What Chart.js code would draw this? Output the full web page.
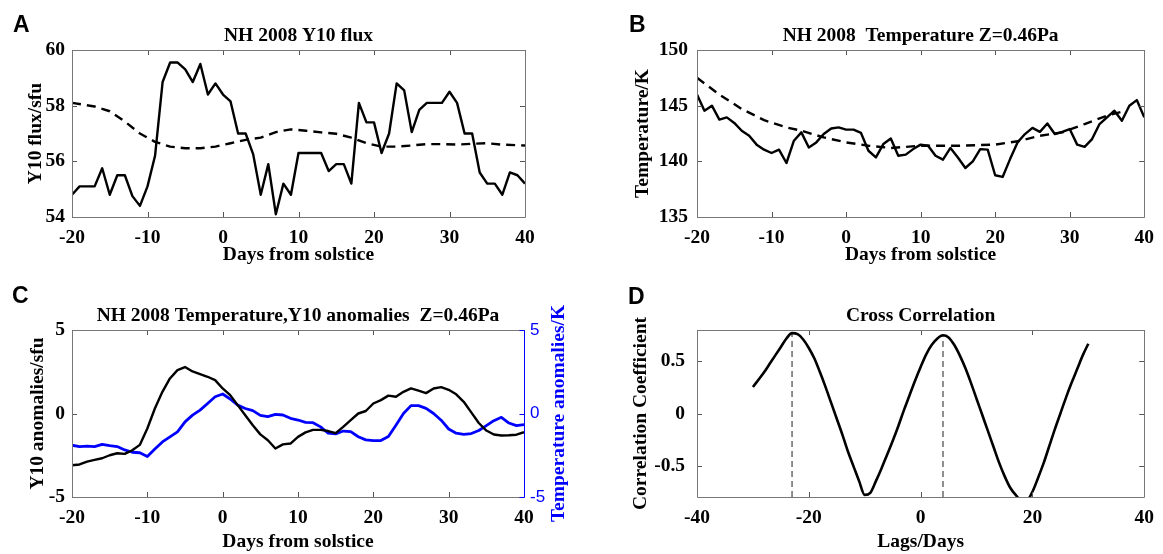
<!DOCTYPE html>
<html>
<head>
<meta charset="utf-8">
<script src="https://cdn.jsdelivr.net/npm/chart.js@4.4.1/dist/chart.umd.min.js"></script>
<style>
  html, body { margin: 0; padding: 0; background: #fff; }
  #wrap { position: relative; width: 1163px; height: 554px; overflow: hidden; }
  .panel { position: absolute; }
</style>
</head>
<body>
<div id="wrap">
  <canvas id="chartA" class="panel" width="575" height="275" style="left:0;top:0"></canvas>
  <canvas id="chartB" class="panel" width="573" height="275" style="left:590px;top:0"></canvas>
  <canvas id="chartC" class="panel" width="590" height="279" style="left:0;top:275px"></canvas>
  <canvas id="chartD" class="panel" width="573" height="279" style="left:590px;top:275px"></canvas>
</div>
<script>
//..days from solstice, shared by panels A-C
const days = [-20, -19, -18, -17, -16, -15, -14, -13, -12, -11, -10, -9, -8, -7, -6, -5, -4, -3, -2, -1,
    0, 1, 2, 3, 4, 5, 6, 7, 8, 9, 10, 11, 12, 13, 14, 15, 16, 17, 18, 19,
    20, 21, 22, 23, 24, 25, 26, 27, 28, 29, 30, 31, 32, 33, 34, 35, 36, 37, 38, 39, 40];

//..panel A: Y10 flux and its smooth background
const y10Flux = [54.8, 55.1, 55.1, 55.1, 55.75, 54.8, 55.5, 55.5, 54.75, 54.4, 55.1, 56.2, 58.85, 59.55, 59.55, 59.3, 58.85, 59.5, 58.4, 58.8,
    58.4, 58.15, 57.0, 57.0, 56.25, 54.8, 55.9, 54.1, 55.2, 54.8, 56.3, 56.3, 56.3, 56.3, 55.65, 55.9, 55.9, 55.2, 58.1, 57.4,
    57.4, 56.3, 57.0, 58.8, 58.55, 57.05, 57.85, 58.1, 58.1, 58.1, 58.5, 58.1, 57.0, 57.0, 55.6, 55.2, 55.2, 54.8, 55.6, 55.5, 55.2];
const y10MeanDays = [-20, -17, -15, -13, -11, -9, -7, -5, -3, -1, 1, 3, 5, 7, 9, 11, 13, 15, 17, 19, 21, 23, 25, 27, 29, 31, 33, 35, 37, 40];
const y10Mean = [58.1, 57.97, 57.8, 57.43, 57.0, 56.7, 56.53, 56.47, 56.47, 56.53, 56.65, 56.77, 56.85, 57.05, 57.15, 57.1, 57.04, 56.99, 56.85, 56.65,
    56.53, 56.53, 56.57, 56.62, 56.62, 56.6, 56.63, 56.65, 56.6, 56.57];

//..panel B: temperature at Z=0.46Pa and its smooth background
const temperature = [146.0, 144.55, 145.0, 143.75, 143.95, 143.45, 142.75, 142.3, 141.5, 141.05, 140.75, 141.05, 139.85, 141.85, 142.6, 141.25, 141.7, 142.45, 142.95, 143.05,
    142.85, 142.85, 142.55, 140.95, 140.35, 141.55, 142.05, 140.5, 140.6, 141.1, 141.5, 141.4, 140.5, 140.15, 141.2, 140.35, 139.4, 140.0, 141.1, 141.05,
    138.75, 138.6, 140.2, 141.7, 142.45, 143.0, 142.65, 143.4, 142.45, 142.65, 142.9, 141.5, 141.3, 142.0, 143.35, 143.95, 144.55, 143.65, 145.0, 145.5, 143.95];
const tempMeanDays = [-20, -17, -14, -11, -8, -6, -3, 0, 3, 6, 10, 15, 20, 23, 26, 29, 32, 35, 37];
const tempMean = [147.5, 146.0, 144.7, 143.7, 143.05, 142.75, 142.15, 141.7, 141.4, 141.2, 141.4, 141.4, 141.5, 141.8, 142.3, 142.6, 143.35, 144.1, 144.45];

//..panel C: anomalies
const y10Anom = [-3.1, -3.05, -2.88, -2.78, -2.68, -2.5, -2.38, -2.42, -2.2, -1.88, -0.9, 0.3, 1.3, 2.1, 2.6, 2.78, 2.52, 2.36, 2.2, 2.0,
    1.5, 1.1, 0.5, -0.1, -0.7, -1.25, -1.6, -2.1, -1.85, -1.8, -1.4, -1.13, -0.98, -0.98, -1.05, -1.18, -0.8, -0.4, 0.0, 0.15,
    0.6, 0.8, 1.07, 1.0, 1.3, 1.5, 1.37, 1.22, 1.5, 1.58, 1.42, 1.15, 0.7, 0.07, -0.57, -1.02, -1.26, -1.32, -1.3, -1.27, -1.12];
const tempAnom = [-1.9, -1.98, -1.95, -1.98, -1.85, -1.93, -1.98, -2.18, -2.32, -2.35, -2.58, -2.13, -1.7, -1.4, -1.1, -0.5, -0.1, 0.2, 0.6, 1.0,
    1.17, 0.87, 0.5, 0.3, 0.17, -0.11, -0.19, -0.05, -0.09, -0.29, -0.39, -0.53, -0.55, -0.8, -1.18, -1.22, -1.05, -1.09, -1.39, -1.58,
    -1.62, -1.62, -1.38, -0.7, 0.0, 0.47, 0.47, 0.31, 0.0, -0.4, -0.93, -1.18, -1.25, -1.2, -1.02, -0.73, -0.43, -0.23, -0.57, -0.73, -0.67];

//..panel D: cross correlation vs lag
const lags = [-30, -29, -28, -27, -26, -25, -24, -23, -22, -21, -20, -19, -18, -17, -16, -15, -14, -13, -12, -11,
    -10, -9, -8, -7, -6, -5, -4, -3, -2, -1, 0, 1, 2, 3, 4, 5, 6, 7, 8, 9,
    10, 11, 12, 13, 14, 15, 16, 17, 18, 19, 20, 21, 22, 23, 24, 25, 26, 27, 28, 29, 30];
const crossCorr = [0.25, 0.32, 0.39, 0.47, 0.55, 0.63, 0.71, 0.76, 0.75, 0.70, 0.62, 0.52, 0.39, 0.25, 0.10, -0.05, -0.20, -0.36, -0.50, -0.64,
    -0.77, -0.75, -0.64, -0.52, -0.39, -0.26, -0.12, 0.03, 0.17, 0.31, 0.44, 0.56, 0.65, 0.71, 0.74, 0.72, 0.65, 0.55, 0.43, 0.29,
    0.14, -0.01, -0.16, -0.31, -0.46, -0.59, -0.70, -0.77, -0.82, -0.82, -0.74, -0.61, -0.47, -0.31, -0.15, 0.0, 0.15, 0.29, 0.42, 0.55, 0.66];
const peakLags = [-23, 4];
const peakCorr = [0.76, 0.74];
const corrFloor = -0.79;

const serif = '"Liberation Serif", "Times New Roman", serif';
const boldSerif = { family: serif, size: 19.5, weight: 'bold' };

const xy = (xs, ys) => xs.map((x, i) => ({ x: x, y: ys[i] }));

//..draws matlab-like box, inward ticks, title and panel letter
const matlabBox = {
    id: 'matlabBox',
    afterDraw(chart, args, opts) {
        const { ctx, chartArea: a, scales } = chart;
        const tl = 5;
        const seg = (x1, y1, x2, y2) => { ctx.beginPath(); ctx.moveTo(x1, y1); ctx.lineTo(x2, y2); ctx.stroke(); };
        ctx.save();
        ctx.lineWidth = 1;
        ctx.strokeStyle = '#555';
        scales.x.ticks.forEach(t => {
            const px = Math.round(scales.x.getPixelForValue(t.value)) + 0.5;
            seg(px, a.bottom, px, a.bottom - tl);
            seg(px, a.top, px, a.top + tl);
        });
        scales.y.ticks.forEach(t => {
            const py = Math.round(scales.y.getPixelForValue(t.value)) + 0.5;
            seg(a.left, py, a.left + tl, py);
            if (!scales.y2) seg(a.right, py, a.right - tl, py);
        });
        ctx.strokeStyle = '#777';
        const l = Math.round(a.left) + 0.5, r = Math.round(a.right) + 0.5;
        const t = Math.round(a.top) + 0.5, b = Math.round(a.bottom) + 0.5;
        seg(l, t, r, t); seg(l, b, r, b); seg(l, t, l, b);
        if (scales.y2) {
            ctx.strokeStyle = '#0000ff';
            seg(r, t, r, b);
            scales.y2.ticks.forEach(tk => {
                const py = Math.round(scales.y2.getPixelForValue(tk.value)) + 0.5;
                seg(r, py, r - tl, py);
            });
            ctx.save();
            ctx.fillStyle = '#0000ff';
            ctx.font = 'bold 19.5px ' + serif;
            ctx.textAlign = 'center';
            ctx.textBaseline = 'middle';
            ctx.translate(opts.rightLabelX, (a.top + a.bottom) / 2);
            ctx.rotate(-Math.PI / 2);
            ctx.fillText(opts.rightLabel, 0, 0);
            ctx.restore();
        } else {
            seg(r, t, r, b);
        }
        ctx.fillStyle = '#000';
        ctx.font = 'bold 19.5px ' + serif;
        ctx.textAlign = 'center';
        ctx.textBaseline = 'middle';
        ctx.fillText(opts.title, (a.left + a.right) / 2, a.top - 14);
        ctx.font = 'bold 23px "Liberation Sans", Arial, sans-serif';
        ctx.textAlign = 'left';
        ctx.textBaseline = 'alphabetic';
        ctx.fillText(opts.letter, opts.letterX, opts.letterY);
        ctx.restore();
    }
};

function xScale(min, max, step, title, height) {
    return {
        type: 'linear', min: min, max: max,
        grid: { display: false, drawTicks: false },
        border: { display: false },
        ticks: { stepSize: step, padding: 9, color: '#000', font: boldSerif, maxRotation: 0 },
        title: { display: true, text: title, color: '#000', font: boldSerif, padding: { top: 0, bottom: 0 } },
        afterFit: s => { s.height = height; }
    };
}

function yScale(min, max, step, title, width, titlePad, labelPad) {
    return {
        type: 'linear', min: min, max: max,
        grid: { display: false, drawTicks: false },
        border: { display: false },
        ticks: { stepSize: step, padding: labelPad, color: '#000', font: boldSerif, includeBounds: false },
        title: { display: true, text: title, color: '#000', font: boldSerif, padding: { top: titlePad, bottom: 0 } },
        afterFit: s => { s.width = width; }
    };
}

function baseOptions(scales, padding, box) {
    return {
        responsive: false,
        animation: false,
        layout: { padding: padding },
        scales: scales,
        plugins: {
            legend: { display: false },
            tooltip: { enabled: false },
            title: { display: false },
            matlabBox: box
        }
    };
}

const solid = (data, color, width) => ({
    data: data, borderColor: color, borderWidth: width, pointRadius: 0, tension: 0,
    borderJoinStyle: 'round', fill: false
});
const dashed = (data, color, width, dash) => Object.assign(solid(data, color, width), { borderDash: dash });

//..panel A
new Chart(document.getElementById('chartA'), {
    type: 'line',
    data: { datasets: [
        solid(xy(days, y10Flux), '#000', 2.4),
        dashed(xy(y10MeanDays, y10Mean), '#000', 2.4, [9, 6])
    ] },
    options: baseOptions({
        x: xScale(-20, 40, 10, 'Days from solstice', 50),
        y: yScale(54, 60, 2, 'Y10 flux/sfu', 72, 24, 7)
    }, { top: 50, left: 0, right: 50, bottom: 8 },
    { title: 'NH 2008 Y10 flux', letter: 'A', letterX: 13, letterY: 32 }),
    plugins: [matlabBox]
});

//..panel B
new Chart(document.getElementById('chartB'), {
    type: 'line',
    data: { datasets: [
        solid(xy(days, temperature), '#000', 2.4),
        dashed(xy(tempMeanDays, tempMean), '#000', 2.4, [9, 6])
    ] },
    options: baseOptions({
        x: xScale(-20, 40, 10, 'Days from solstice', 50),
        y: yScale(135, 150, 5, 'Temperature/K', 107, 41, 9)
    }, { top: 50, left: 0, right: 12, bottom: 8 },
    { title: 'NH 2008  Temperature Z=0.46Pa', letter: 'B', letterX: 39, letterY: 32 }),
    plugins: [matlabBox]
});

//..panel C, two y axes
const scalesC = {
    x: xScale(-20, 40, 10, 'Days from solstice', 57),
    y: yScale(-5, 5, 5, 'Y10 anomalies/sfu', 72, 26, 7),
    y2: {
        type: 'linear', position: 'right', min: -5, max: 5,
        grid: { display: false, drawTicks: false },
        border: { display: false },
        ticks: { stepSize: 5, padding: 6, color: '#0000ff',
            font: { family: '"Liberation Sans", Arial, sans-serif', size: 17 } },
        afterFit: s => { s.width = 66; }
    }
};
new Chart(document.getElementById('chartC'), {
    type: 'line',
    data: { datasets: [
        solid(xy(days, y10Anom), '#000', 2.4),
        Object.assign(solid(xy(days, tempAnom), '#0000ff', 2.8), { yAxisID: 'y2' })
    ] },
    options: baseOptions(scalesC, { top: 55, left: 0, right: 0, bottom: 0 },
    { title: 'NH 2008 Temperature,Y10 anomalies  Z=0.46Pa', letter: 'C', letterX: 12, letterY: 28,
      rightLabel: 'Temperature anomalies/K', rightLabelX: 559 }),
    plugins: [matlabBox]
});

//..panel D, vertical markers at peak lags
const markers = peakLags.map((lag, i) =>
    dashed([{ x: lag, y: corrFloor }, { x: lag, y: peakCorr[i] }], '#444', 1.2, [6, 4]));
new Chart(document.getElementById('chartD'), {
    type: 'line',
    data: { datasets: [
        Object.assign(solid(xy(lags, crossCorr), '#000', 2.6), { cubicInterpolationMode: 'monotone', clip: 0 }),
        ...markers
    ] },
    options: baseOptions({
        x: xScale(-40, 40, 20, 'Lags/Days', 57),
        y: yScale(corrFloor, -corrFloor, 0.5, 'Correlation Coefficient', 107, 39, 12)
    }, { top: 55, left: 0, right: 12, bottom: 0 },
    { title: 'Cross Correlation', letter: 'D', letterX: 38, letterY: 29 }),
    plugins: [matlabBox]
});
</script>
</body>
</html>
